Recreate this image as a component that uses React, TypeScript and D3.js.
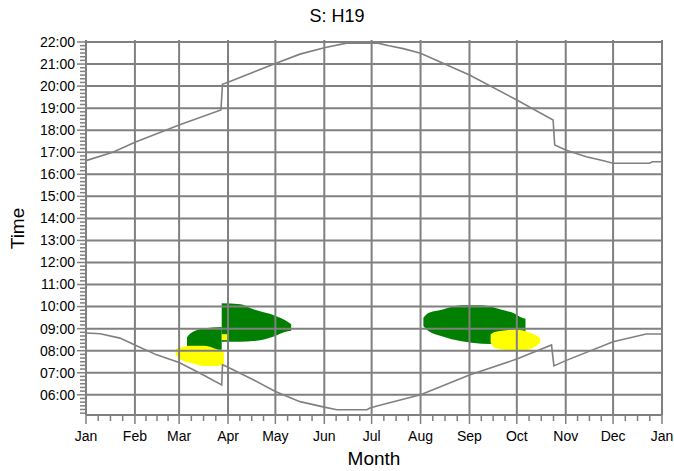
import * as d3 from "d3";

const WIDTH = 674;
const HEIGHT = 471;
const GRID = "#808080";
const FONT = "'Liberation Sans', Arial, sans-serif";

// month labels and the day of year each one starts on
const months = ["Jan", "Feb", "Mar", "Apr", "May", "Jun", "Jul", "Aug", "Sep", "Oct", "Nov", "Dec", "Jan"];
const monthStarts = [0, 31, 59, 90, 120, 151, 181, 212, 243, 273, 304, 334, 365];

const hourTicks = [6, 7, 8, 9, 10, 11, 12, 13, 14, 15, 16, 17, 18, 19, 20, 21, 22];

// sunset (hours, local time)
const sunsetDays = [0, 17, 31, 59, 85.5, 86.5, 90, 120, 135.6, 151, 165, 185, 192, 201, 212, 243, 273, 296, 297, 304, 317, 328, 334, 357, 359, 365];
const sunsetHours = [16.62, 17.0, 17.45, 18.24, 18.92, 20.08, 20.17, 21.03, 21.45, 21.74, 21.95, 21.95, 21.83, 21.7, 21.49, 20.5, 19.37, 18.46, 17.33, 17.1, 16.8, 16.61, 16.5, 16.5, 16.57, 16.57];

// sunrise (hours, local time)
const sunriseDays = [0, 9, 21.5, 31, 44.8, 59, 72.3, 86, 86.5, 90, 106, 120, 135.6, 151, 159, 178, 180, 185, 212, 243, 273, 295, 296.5, 304, 334, 355, 365];
const sunriseHours = [8.8, 8.77, 8.57, 8.26, 7.81, 7.46, 6.98, 6.45, 7.36, 7.25, 6.68, 6.15, 5.69, 5.44, 5.32, 5.32, 5.4, 5.5, 6.0, 6.9, 7.62, 8.26, 7.31, 7.55, 8.41, 8.76, 8.76];

// shadow periods: day, start hour, end hour
const greenSpringDays = [64, 65, 67, 70, 74, 80, 86];
const greenSpringStart = [8.22, 8.18, 8.15, 8.1, 8.07, 8.04, 8.04];
const greenSpringEnd = [8.6, 8.7, 8.82, 8.93, 9.0, 9.05, 9.08];

const greenSpringDstDays = [86, 98, 106, 112, 117, 121, 125, 128, 130];
const greenSpringDstStart = [8.41, 8.41, 8.44, 8.5, 8.6, 8.7, 8.82, 8.88, 8.9];
const greenSpringDstEnd = [10.15, 10.11, 9.88, 9.76, 9.66, 9.55, 9.43, 9.3, 9.2];

const yellowSpringDays = [56.8, 59.3, 62, 65.6, 74.3, 82.8, 87.4];
const yellowSpringStart = [7.84, 7.62, 7.52, 7.46, 7.31, 7.31, 7.39];
const yellowSpringEnd = [8.07, 8.14, 8.18, 8.22, 8.22, 8.07, 7.95];

const yellowSpringDstDays = [86, 89.5];
const yellowSpringDstStart = [8.48, 8.48];
const yellowSpringDstEnd = [8.75, 8.75];

const greenAutumnDays = [213.8, 217, 225.5, 238, 250.7, 263.4, 271.8, 276, 278.5];
const greenAutumnStart = [9.11, 8.89, 8.66, 8.43, 8.32, 8.3, 8.35, 8.55, 8.75];
const greenAutumnEnd = [9.49, 9.71, 9.86, 10.06, 10.06, 9.86, 9.67, 9.5, 9.45];

const yellowAutumnDays = [256.4, 258.5, 263.7, 272, 280.4, 285, 287.8];
const yellowAutumnStart = [8.36, 8.16, 8.05, 7.98, 8.05, 8.2, 8.36];
const yellowAutumnEnd = [8.73, 8.84, 8.91, 8.96, 8.84, 8.7, 8.58];

const x = d3.scaleLinear().domain([0, 365]).range([86, 662]);
const y = d3.scaleLinear().domain([5 + 5 / 60, 22]).range([415, 42]);

type Band = { days: number[]; start: number[]; end: number[]; color: string };

const bands: Band[] = [
    { days: greenSpringDays, start: greenSpringStart, end: greenSpringEnd, color: "#007f00" },
    { days: greenSpringDstDays, start: greenSpringDstStart, end: greenSpringDstEnd, color: "#007f00" },
    { days: greenAutumnDays, start: greenAutumnStart, end: greenAutumnEnd, color: "#007f00" },
    { days: yellowSpringDays, start: yellowSpringStart, end: yellowSpringEnd, color: "#ffff00" },
    { days: yellowSpringDstDays, start: yellowSpringDstStart, end: yellowSpringDstEnd, color: "#ffff00" },
    { days: yellowAutumnDays, start: yellowAutumnStart, end: yellowAutumnEnd, color: "#ffff00" }
];

const fmtHour = (h: number) => `${String(h).padStart(2, "0")}:00`;

export default function App() {
    const curve = (days: number[], hours: number[]) =>
        d3.line<number>().x(d => x(d)).y((_, i) => y(hours[i]))(days) || "";

    const band = (b: Band) =>
        d3
            .area<number>()
            .curve(d3.curveMonotoneX)
            .x(d => x(d))
            .y0((_, i) => y(b.start[i]))
            .y1((_, i) => y(b.end[i]))(b.days) || "";

    // minor ticks: every 10 minutes on the time axis, quarter months on the month axis
    const minorY = d3.range(310, 1321, 10).filter(m => m % 60 !== 0).map(m => m / 60);
    const minorX: number[] = [];
    for (let i = 0; i < 12; i++) {
        const len = monthStarts[i + 1] - monthStarts[i];
        for (let k = 1; k < 4; k++) minorX.push(monthStarts[i] + (k * len) / 4);
    }

    const [x0, x1] = x.range();
    const [yb, yt] = y.range();

    return (
        <svg
            width={WIDTH}
            height={HEIGHT}
            style={{ position: "absolute", left: 0, top: 0, background: "#fff" }}
            fontFamily={FONT}
        >
            <text x={337} y={22} textAnchor="middle" fontSize={18}>S: H19</text>

            {/* shadow periods */}
            {bands.map((b, i) => (
                <path key={i} d={band(b)} fill={b.color} stroke="none" />
            ))}

            {/* grid */}
            <g stroke={GRID} strokeWidth={2}>
                {hourTicks.map(h => (
                    <line key={h} x1={x0} x2={x1} y1={y(h)} y2={y(h)} />
                ))}
                {monthStarts.map((d, i) => (
                    <line key={i} x1={x(d)} x2={x(d)} y1={yt - 2} y2={yb} />
                ))}
                <line x1={x0} x2={x1} y1={yb} y2={yb} />
            </g>

            {/* sunrise / sunset */}
            <path d={curve(sunsetDays, sunsetHours)} fill="none" stroke={GRID} strokeWidth={1.6} />
            <path d={curve(sunriseDays, sunriseHours)} fill="none" stroke={GRID} strokeWidth={1.6} />

            {/* y axis ticks */}
            <g stroke={GRID} strokeWidth={1.5}>
                {hourTicks.map(h => (
                    <line key={h} x1={x0 - 9} x2={x0} y1={y(h)} y2={y(h)} />
                ))}
                {minorY.map(h => (
                    <line key={h} x1={x0 - 6} x2={x0} y1={y(h)} y2={y(h)} />
                ))}
            </g>
            <g fontSize={14} textAnchor="end">
                {hourTicks.map(h => (
                    <text key={h} x={x0 - 11} y={y(h)} dy="0.35em">{fmtHour(h)}</text>
                ))}
            </g>

            {/* x axis ticks */}
            <g stroke={GRID} strokeWidth={1.5}>
                {monthStarts.map((d, i) => (
                    <line key={i} x1={x(d)} x2={x(d)} y1={yb} y2={yb + 9} />
                ))}
                {minorX.map((d, i) => (
                    <line key={i} x1={x(d)} x2={x(d)} y1={yb} y2={yb + 6} />
                ))}
            </g>
            <g fontSize={14} textAnchor="middle">
                {months.map((m, i) => (
                    <text key={i} x={x(monthStarts[i])} y={441}>{m}</text>
                ))}
            </g>

            <text x={(x0 + x1) / 2} y={465} textAnchor="middle" fontSize={19}>Month</text>
            <text transform={`translate(24, ${(yt + yb) / 2}) rotate(-90)`} textAnchor="middle" fontSize={19}>Time</text>
        </svg>
    );
}
